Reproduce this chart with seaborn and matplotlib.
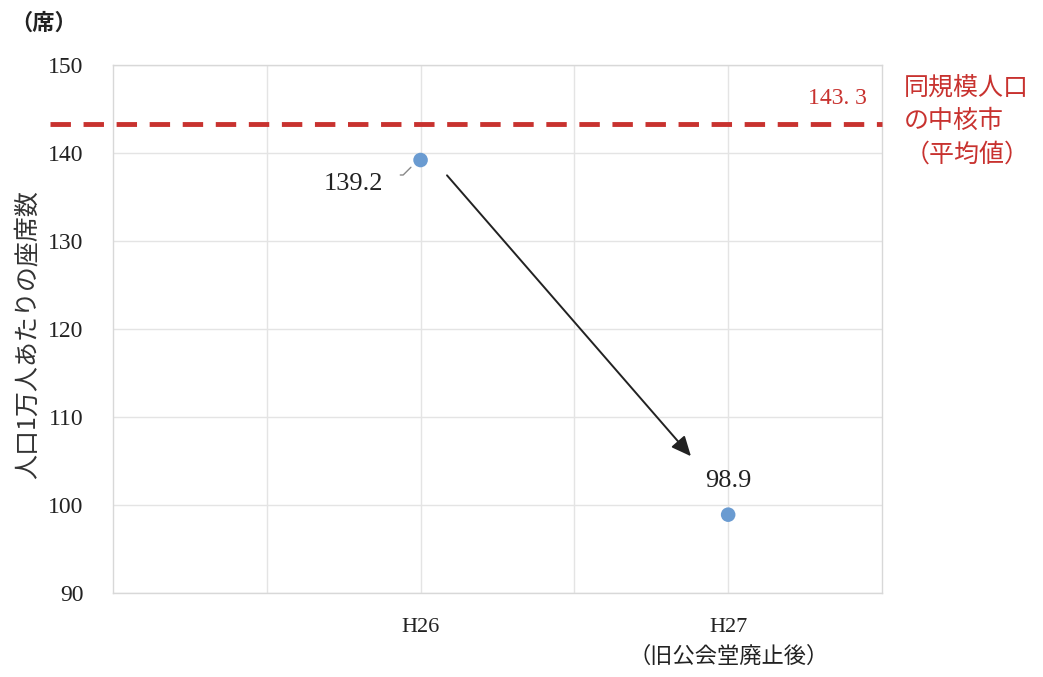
import matplotlib
matplotlib.use("Agg")
import matplotlib.pyplot as plt
import seaborn as sns
import pandas as pd

# Data
periods = ["H26", "H27\n（旧公会堂廃止後）"]
period_pos = [2, 4]
seats_per_10k = [139.2, 98.9]
benchmark_value = 143.3
benchmark_label = "同規模人口\nの中核市\n（平均値）"
y_ticks = [90, 100, 110, 120, 130, 140, 150]

sns.set_theme(style="white")
plt.rcParams["font.family"] = ["Noto Sans CJK JP", "DejaVu Sans"]
serif = ["Liberation Serif", "DejaVu Serif"]

df = pd.DataFrame({"pos": period_pos, "value": seats_per_10k, "period": periods})

fig = plt.figure(figsize=(10.43, 6.77), dpi=100)
ax = fig.add_axes([0.1083, 0.1241, 0.7373, 0.7799])

red = "#c8322f"
blue = "#6a9bd1"

# Benchmark dashed line, extending a little past the left edge
ax.plot([-0.41, 5], [benchmark_value, benchmark_value], color=red, lw=3.5,
        dashes=(4.2, 2.6), clip_on=False, zorder=3)

sns.scatterplot(data=df, x="pos", y="value", ax=ax, s=110, color=blue,
                edgecolor="none", zorder=4, legend=False)

ax.set_xlim(0, 5)
ax.set_ylim(90, 150)
ax.set_yticks(y_ticks)
ax.set_yticklabels([str(t) for t in y_ticks], family=serif, fontsize=17,
                   color="#222222")
ax.set_xticks(period_pos)
ax.set_xticklabels(periods, fontsize=16, linespacing=1.6, color="#222222")
for lbl in ax.get_xticklabels():
    lbl.set_family(["Liberation Serif", "Noto Sans CJK JP"])
ax.set_xticks([1, 3], minor=True)
ax.tick_params(axis="y", length=0, pad=21)
ax.tick_params(axis="x", length=0, pad=18)

ax.grid(True, which="both", color="#e4e4e4", lw=1)
for s in ax.spines.values():
    s.set_color("#d8d8d8")
    s.set_linewidth(1)
ax.set_xlabel("")
ax.set_ylabel("人口1万人あたりの座席数", fontsize=18, color="#333333")
ax.yaxis.set_label_coords(-0.094, 0.49)

# Value labels
ax.annotate(f"{seats_per_10k[0]}", xy=(period_pos[0], seats_per_10k[0]),
            xytext=(-48, -17), textcoords="offset points", ha="center",
            va="center", family=serif, fontsize=19, color="#222222")
ax.annotate("", xy=(period_pos[0] - 0.05, seats_per_10k[0] - 0.6),
            xytext=(period_pos[0] - 0.15, seats_per_10k[0] - 1.7),
            arrowprops=dict(arrowstyle="-", color="#888888", lw=1,
                            connectionstyle="angle,angleA=0,angleB=45,rad=0"))
ax.annotate(f"{seats_per_10k[1]}", xy=(period_pos[1], seats_per_10k[1]),
            xytext=(0, 24), textcoords="offset points", ha="center",
            va="center", family=serif, fontsize=19, color="#222222")

# Trend arrow between the two years
ax.annotate("", xy=(3.77, 105.3), xytext=(2.16, 137.7),
            arrowprops=dict(arrowstyle="-|>,head_length=1.0,head_width=0.45",
                            color="#222222", lw=1.4))

# Benchmark labels
ax.text(4.71, benchmark_value + 2.9, "143. 3", color=red, family=serif,
        fontsize=17, ha="center", va="center")
fig.text(0.867, 0.889, benchmark_label, color=red, fontsize=18,
         ha="left", va="top", linespacing=1.35)

fig.text(0.042, 0.966, "（席）", fontsize=16, ha="center", va="center",
         color="#222222", fontweight="bold")

fig.savefig("out.png", dpi=100, facecolor="white")
